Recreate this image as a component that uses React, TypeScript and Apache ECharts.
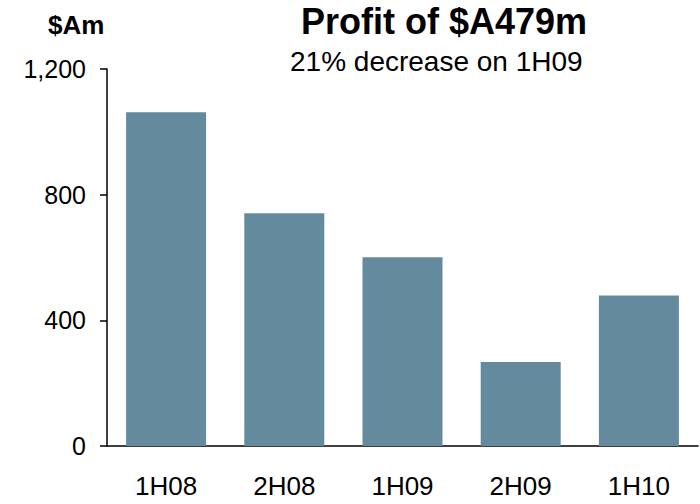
import React, { useEffect, useRef } from "react";
import * as echarts from "echarts";

const categories = ["1H08", "2H08", "1H09", "2H09", "1H10"];
const profitValues = [1062, 741, 601, 267, 479];
const yTicks = [0, 400, 800, 1200];
const titleText = "Profit of $A479m";
const subtitleText = "21% decrease on 1H09";
const unitText = "$Am";

const FONT = "'Liberation Sans', Arial, sans-serif";

export default function App() {
  const ref = useRef<HTMLDivElement>(null);
  useEffect(() => {
    if (!ref.current) return;
    const chart = echarts.init(ref.current, null, { renderer: "svg" });
    chart.setOption({
      animation: false,
      backgroundColor: "#ffffff",
      textStyle: { fontFamily: FONT },
      grid: { left: 107, right: 2, top: 69, bottom: 58, containLabel: false },
      graphic: [
        {
          type: "text",
          left: 301,
          top: 3,
          style: { text: titleText, font: `bold 36px ${FONT}`, fill: "#000" },
        },
        {
          type: "text",
          left: 290,
          top: 47,
          style: { text: subtitleText, font: `28px ${FONT}`, fill: "#000" },
        },
        {
          type: "text",
          left: 48,
          top: 12,
          style: { text: unitText, font: `bold 26px ${FONT}`, fill: "#000" },
        },
      ],
      xAxis: {
        type: "category",
        data: categories,
        axisLine: { show: true, lineStyle: { color: "#000", width: 1.5 } },
        axisTick: { show: false },
        axisLabel: { color: "#000", fontSize: 26, fontFamily: FONT, margin: 27 },
      },
      yAxis: {
        type: "value",
        min: 0,
        max: 1200,
        interval: 400,
        axisLine: { show: true, lineStyle: { color: "#000", width: 1.5 } },
        axisTick: { show: true, length: 7, lineStyle: { color: "#000", width: 1.5 } },
        splitLine: { show: false },
        axisLabel: {
          color: "#000",
          fontSize: 25,
          fontFamily: FONT,
          margin: 21,
          formatter: (v: number) =>
            yTicks.includes(v) ? v.toLocaleString("en-US") : "",
        },
      },
      series: [
        {
          type: "bar",
          data: profitValues,
          barWidth: 80,
          itemStyle: { color: "#638b9d" },
        },
      ],
    });
    return () => chart.dispose();
  }, []);
  return (
    <div
      ref={ref}
      style={{ position: "absolute", left: 0, top: 0, width: 700, height: 504 }}
    />
  );
}
